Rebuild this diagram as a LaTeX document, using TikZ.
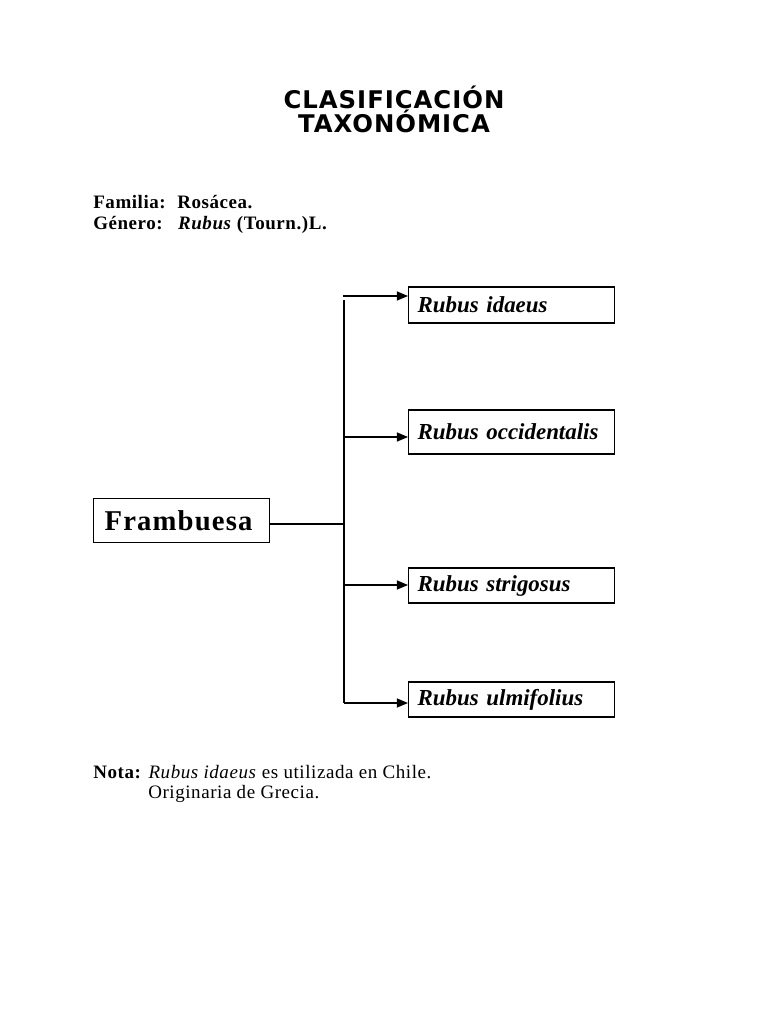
\documentclass[tikz,border=0pt]{standalone}
\usepackage{fontspec}
\setmainfont{Liberation Serif}
\newfontfamily\titlefont{DejaVu Sans}
\usetikzlibrary{arrows.meta, positioning}

\begin{document}
\begin{tikzpicture}[
    x=0.025cm, y=-0.025cm,
    title/.style={font=\titlefont\fontsize{17.3}{22}\selectfont\bfseries\addfontfeature{LetterSpace=4},
                  inner sep=0pt, anchor=base},
    info/.style={font=\fontsize{13.5}{16}\selectfont\addfontfeature{LetterSpace=3},
                 inner sep=0pt, anchor=base west},
    rootbox/.style={rectangle, draw=black, line width=0.9pt, anchor=north west,
                    minimum width=4.4cm, minimum height=1.1cm,
                    text width=3.85cm, inner xsep=0.275cm, align=left,
                    font=\fontsize{20.4}{24}\selectfont\bfseries\addfontfeature{LetterSpace=4}},
    species/.style={rectangle, draw=black, line width=0.9pt, anchor=west,
                    text width=4.7cm, inner xsep=0.225cm, inner ysep=0pt, align=left,
                    font=\fontsize{16.3}{19}\selectfont\bfseries\itshape},
    branch/.style={draw, line width=0.9pt},
    tobox/.style={draw, line width=0.9pt, -{Triangle[length=8pt, width=6.5pt]}}
]
\useasboundingbox (0,0) rectangle (768,1024);

% heading
\node[title] (title1) at (394,109) {CLASIFICACIÓN};
\node[title] (title2) at (394,133) {TAXONÓMICA};

\node[info] (familia) at (93,209) {\textbf{\makebox[2.1cm][l]{Familia:}Rosácea.}};
\node[info] (genero) at (93,230) {\textbf{\makebox[2.12cm][l]{Género:}\textit{Rubus} (Tourn.)L.}};

% tree
\node[rootbox] (fram) at (93,498) {Frambuesa};

\node[species, minimum height=0.9cm] (idaeus) at (408,305) {Rubus idaeus};
\node[species, minimum height=1.1cm] (occid) at (408,432) {Rubus occidentalis};
\node[species, minimum height=0.875cm] (strig) at (408,585.5) {Rubus strigosus};
\node[species, minimum height=0.875cm] (ulmi) at (408,699.5) {Rubus ulmifolius};

\coordinate (trunktop) at (344,300);
\coordinate (join) at (344,524);
\coordinate (b1) at (343,296);
\coordinate (b2) at (344,437);
\coordinate (b3) at (344,585);
\coordinate (b4) at (344,703);

\draw[branch] (trunktop) -- (b4);
\draw[branch] (fram.east |- join) -- (join);
\draw[tobox] (b1) -- (b1 -| idaeus.west);
\draw[tobox] (b2) -- (b2 -| occid.west);
\draw[tobox] (b3) -- (b3 -| strig.west);
\draw[tobox] (b4) -- (b4 -| ulmi.west);

% note
\node[info] (nota) at (93,778) {\textbf{Nota:} \textit{Rubus idaeus} es utilizada en Chile.};
\node[info] (origen) at (148,798) {Originaria de Grecia.};
\end{tikzpicture}
\end{document}
